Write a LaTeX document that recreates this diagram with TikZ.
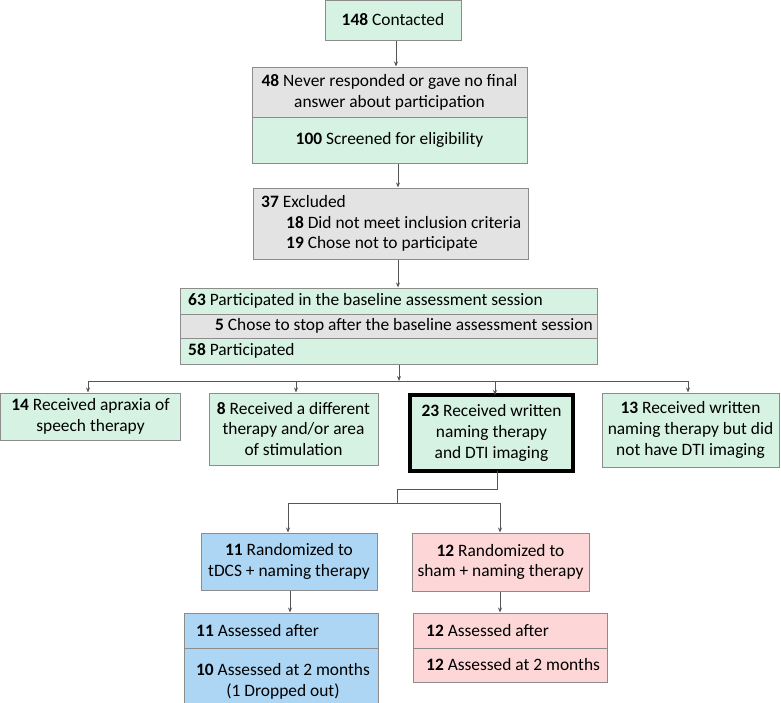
\documentclass[tikz,border=0pt]{standalone}
\usepackage{fontspec}
\setmainfont{Carlito}
\usetikzlibrary{arrows.meta}
\definecolor{cgreen}{HTML}{D6F2E2}
\definecolor{cgray}{HTML}{E3E3E3}
\definecolor{cblue}{HTML}{ACD6F4}
\definecolor{cpink}{HTML}{FDD6D7}
\definecolor{cedge}{HTML}{8C8C8C}
\definecolor{cline}{HTML}{555555}
\tikzset{
  boxg/.style={draw=cedge, line width=1pt, fill=cgreen, inner sep=0pt},
  boxy/.style={draw=cedge, line width=1pt, fill=cgray, inner sep=0pt},
  boxb/.style={draw=cedge, line width=1pt, fill=cblue, inner sep=0pt},
  boxp/.style={draw=cedge, line width=1pt, fill=cpink, inner sep=0pt},
  txt/.style={inner sep=0pt, align=center, font=\fontsize{17.4}{20.8}\selectfont},
  txtl/.style={inner sep=0pt, anchor=west, font=\fontsize{17.4}{20.8}\selectfont},
  conn/.style={draw=cline, line width=0.9pt},
  arr/.style={conn, -{Stealth[length=5pt,width=4pt]}},
}
\begin{document}
\begin{tikzpicture}[x=1pt,y=-1pt]
\useasboundingbox (0,0) rectangle (781,702);
% boxes
\node[boxg, minimum width=136pt, minimum height=40pt] (b1) at (393,20) {};
\node[boxy, minimum width=275pt, minimum height=50pt] (b2a) at (389.5,92) {};
\node[boxg, minimum width=275pt, minimum height=46pt] (b2b) at (389.5,140) {};
\node[boxy, minimum width=275pt, minimum height=71pt] (b3) at (390.5,223.5) {};
\node[boxg, minimum width=417pt, minimum height=26pt] (b4a) at (388.5,301) {};
\node[boxy, minimum width=417pt, minimum height=24pt] (b4b) at (388.5,326) {};
\node[boxg, minimum width=417pt, minimum height=26pt] (b4c) at (388.5,351) {};
\node[boxg, minimum width=180pt, minimum height=47pt] (b5) at (90.5,416.5) {};
\node[boxg, minimum width=169pt, minimum height=72pt] (b6) at (293.5,429) {};
\node[draw=black, line width=4.5pt, fill=cgreen, inner sep=0pt, minimum width=163pt, minimum height=76pt] (b7) at (491.5,433) {};
\node[boxg, minimum width=177pt, minimum height=74pt] (b8) at (690.5,430) {};
\node[boxb, minimum width=176pt, minimum height=57pt] (b9) at (289,561.5) {};
\node[boxp, minimum width=177pt, minimum height=58pt] (b10) at (500.5,562) {};
\node[boxb, minimum width=194pt, minimum height=35pt] (b11a) at (281,630.5) {};
\node[boxb, minimum width=194pt, minimum height=56pt] (b11b) at (281,676) {};
\node[boxp, minimum width=194pt, minimum height=35pt] (b12a) at (510,630.5) {};
\node[boxp, minimum width=194pt, minimum height=34pt] (b12b) at (510,665) {};
% texts
\node[txt] (t1) at (b1) {\textbf{148} Contacted};
\node[txt] (t2a) at (b2a) {\textbf{48} Never responded or gave no final\\answer about participation};
\node[txt] (t2b) at (b2b) {\textbf{100} Screened for eligibility};
\node[txtl] (t3a) at (261,202) {\textbf{37} Excluded};
\node[txtl] (t3b) at (286,223) {\textbf{18} Did not meet inclusion criteria};
\node[txtl] (t3c) at (286,244) {\textbf{19} Chose not to participate};
\node[txtl] (t4a) at (188,301) {\textbf{63} Participated in the baseline assessment session};
\node[txtl] (t4b) at (215,326) {\textbf{5} Chose to stop after the baseline assessment session};
\node[txtl] (t4c) at (188,351) {\textbf{58} Participated};
\node[txt] (t5) at (b5) {\textbf{14} Received apraxia of\\speech therapy};
\node[txt] (t6) at (b6) {\textbf{8} Received a different\\therapy and/or area\\of stimulation};
\node[txt] (t7) at (b7) {\textbf{23} Received written\\naming therapy\\and DTI imaging};
\node[txt] (t8) at (b8) {\textbf{13} Received written\\naming therapy but did\\not have DTI imaging};
\node[txt] (t9) at (b9) {\textbf{11} Randomized to\\tDCS + naming therapy};
\node[txt] (t10) at (b10) {\textbf{12} Randomized to\\sham + naming therapy};
\node[txtl] (t11a) at (196,630.5) {\textbf{11} Assessed after};
\node[txt] (t11b) at (283,681.5) {\textbf{10} Assessed at 2 months\\(1 Dropped out)};
\node[txtl] (t12a) at (426,630.5) {\textbf{12} Assessed after};
\node[txtl] (t12b) at (426,665) {\textbf{12} Assessed at 2 months};
% connectors
\coordinate (s1) at (396,0);
\draw[arr] (b1.south -| s1) -- (b2a.north -| s1);
\coordinate (s2) at (398,0);
\draw[arr] (b2b.south -| s2) -- (b3.north -| s2);
\draw[arr] (b3.south -| s2) -- (b4a.north -| s2);
\coordinate (h1) at (399,381);
\draw[arr] (b4c.south -| h1) -- (h1);
\coordinate (hl) at (88,381);
\coordinate (hr) at (688,381);
\draw[conn] (hl) -- (hr);
\draw[arr] (hl) -- (b5.north -| hl);
\coordinate (d6) at (296,381);
\draw[arr] (d6) -- (b6.north -| d6);
\coordinate (d7) at (495,381);
\draw[arr] (d7) -- ([yshift=-2.25pt]b7.north -| d7);
\draw[arr] (hr) -- (b8.north -| hr);
\coordinate (k1) at (497,489);
\coordinate (k2) at (397,489);
\coordinate (k3) at (397,503);
\draw[conn] ([yshift=2.25pt]b7.south -| k1) -- (k1) -- (k2) -- (k3);
\coordinate (ml) at (288,503);
\coordinate (mr) at (500,503);
\draw[conn] (ml) -- (mr);
\draw[arr] (ml) -- (b9.north -| ml);
\draw[arr] (mr) -- (b10.north -| mr);
\coordinate (s9) at (290,0);
\draw[arr] (b9.south -| s9) -- (b11a.north -| s9);
\coordinate (s10) at (500,0);
\draw[arr] (b10.south -| s10) -- (b12a.north -| s10);
\end{tikzpicture}
\end{document}
